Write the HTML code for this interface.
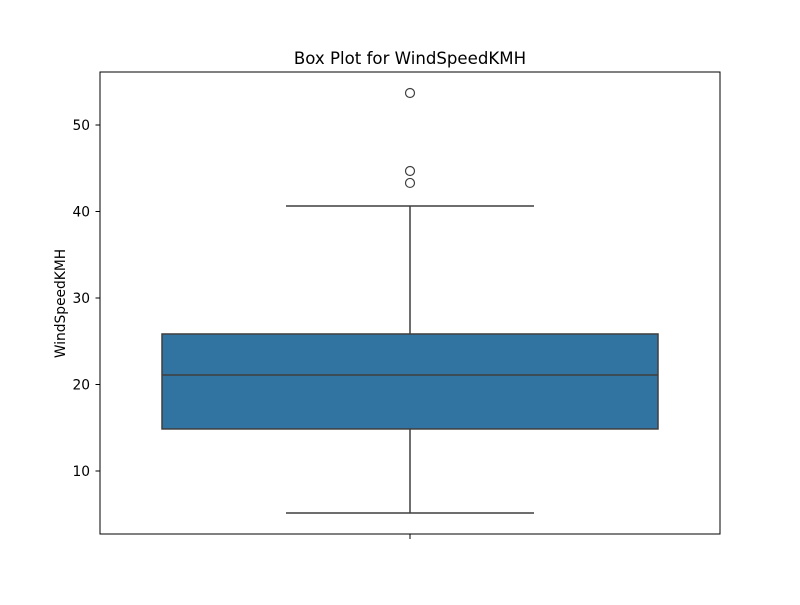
<!DOCTYPE html>
<html><head><meta charset="utf-8"><style>
body{margin:0;background:#fff;}
text{font-family:"DejaVu Sans","Liberation Sans",sans-serif;}
</style></head><body>
<svg id="chart" width="800" height="600" xmlns="http://www.w3.org/2000/svg">
<rect width="800" height="600" fill="#fff"/>
<text x="410" y="64" text-anchor="middle" font-size="16.6">Box Plot for WindSpeedKMH</text>
<text transform="translate(65,303.5) rotate(-90)" text-anchor="middle" font-size="13.8">WindSpeedKMH</text>
<g id="ticks"></g>
<g id="marks"></g>
<rect x="100" y="72" width="620" height="462" fill="none" stroke="#000" stroke-width="1"/>
</svg>
<script>
const yTicks = [10, 20, 30, 40, 50];
const stats = {whiskerLow: 5.14, q1: 14.86, median: 21.1, q3: 25.84, whiskerHigh: 40.64};
const outliers = [53.7, 44.68, 43.3];
const categories = [""];

const X0 = 100, X1 = 720;
function y(v){ return 471 - (v - 10) * 8.65; }
function xc(i){ return X0 + (X1 - X0) * (i + 0.5) / categories.length; }
const NS = "http://www.w3.org/2000/svg";
function mk(tag, attrs, parent){
  const e = document.createElementNS(NS, tag);
  for (const k in attrs) e.setAttribute(k, attrs[k]);
  parent.appendChild(e); return e;
}
const tg = document.getElementById('ticks');
yTicks.forEach(t => {
  const l = mk('line', {x1: 95.5, x2: 100, y1: y(t), y2: y(t), stroke: '#000'}, tg);
  
  
  const tx = mk('text', {x: 90, y: y(t) + 5, 'text-anchor': 'end', 'font-size': 13.8}, tg);
  tx.textContent = t;
  
  
});
const cx = xc(0);
const xt = mk('line', {x1: cx, x2: cx, y1: 534, y2: 539, stroke: '#000'}, tg);



const g = document.getElementById('marks');
const bw = 496, ww = 248, c = '#3f3f3f';
const w1 = mk('line', {x1: cx, x2: cx, y1: y(stats.q3), y2: y(stats.whiskerHigh), stroke: c, 'stroke-width': 1.5}, g);


const w2 = mk('line', {x1: cx, x2: cx, y1: y(stats.q1), y2: y(stats.whiskerLow), stroke: c, 'stroke-width': 1.5}, g);


const c1 = mk('line', {x1: cx - ww/2, x2: cx + ww/2, y1: y(stats.whiskerHigh), y2: y(stats.whiskerHigh), stroke: c, 'stroke-width': 1.5}, g);


const c2 = mk('line', {x1: cx - ww/2, x2: cx + ww/2, y1: y(stats.whiskerLow), y2: y(stats.whiskerLow), stroke: c, 'stroke-width': 1.5}, g);


const box = mk('rect', {x: cx - bw/2, y: y(stats.q3), width: bw, height: y(stats.q1) - y(stats.q3), fill: '#3274a1', stroke: c, 'stroke-width': 1.5}, g);


const med = mk('line', {x1: cx - bw/2, x2: cx + bw/2, y1: y(stats.median), y2: y(stats.median), stroke: c, 'stroke-width': 1.5}, g);


outliers.forEach(v => {
  const o = mk('circle', {cx: cx, cy: y(v), r: 4.5, fill: 'none', stroke: c, 'stroke-width': 1.2}, g);
  
  
});
</script>
</body></html>
